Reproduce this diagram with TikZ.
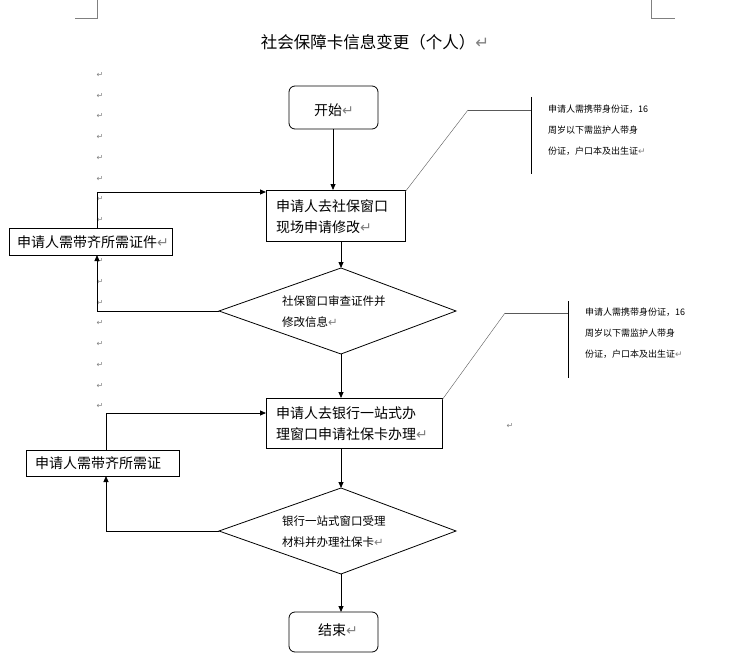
\documentclass[tikz,border=0pt]{standalone}
\usepackage{fontspec}
\setmainfont{Noto Sans CJK SC}
\newfontfamily\dvs{DejaVu Sans}
\newcommand{\pmk}{{\dvs\textcolor{gray}{↵}}}
\usetikzlibrary{shapes.geometric,arrows.meta}
\begin{document}
\begin{tikzpicture}[x=1pt,y=-1pt,
  txt/.style={font=\fontsize{14}{21}\selectfont,align=left,inner sep=0,anchor=west},
  dtxt/.style={font=\fontsize{11.5}{21}\selectfont,align=left,inner sep=0,anchor=west},
  small/.style={font=\fontsize{9}{21}\selectfont,align=left,inner sep=0,anchor=north west},
  arr/.style={-{Triangle[length=6pt,width=5pt]},thick},
  pm/.style={font=\fontsize{8}{8}\selectfont,inner sep=0}]
\useasboundingbox (0,0) rectangle (731,658);
\draw[gray] (97,0) -- (97,18) -- (75,18);
\draw[gray] (651,0) -- (651,18) -- (675,18);
\node[font=\fontsize{16.5}{18}\selectfont,inner sep=0] (title) at (375,42) {社会保障卡信息变更（个人）\pmk};
\foreach \i in {0,...,7,9,10,...,16} \node[pm] (pm\i) at (100,{75+20.7*\i}) {\pmk};
\node[pm] (pmx) at (510,426) {\pmk};
\draw[thick,rounded corners=6pt,fill=white] (289,86) rectangle (378,129);
\node[txt] (start) at (314,110) {开始\pmk};
\draw[thick,fill=white] (266,190) rectangle (405,241);
\node[txt] (b1) at (276,217) {申请人去社保窗口\\现场申请修改\pmk};
\draw[thick,fill=white] (9,228) rectangle (172,255);
\node[txt] (l1) at (17,242) {申请人需带齐所需证件\pmk};
\draw[thick,fill=white] (219,311) -- (341,268) -- (456,311) -- (341,354) -- cycle;
\node[dtxt] (d1) at (282,312) {社保窗口审查证件并\\修改信息\pmk};
\draw[thick,fill=white] (266,398) rectangle (442,448);
\node[txt] (b2) at (276,424) {申请人去银行一站式办\\理窗口申请社保卡办理\pmk};
\draw[thick,fill=white] (26,450) rectangle (179,476);
\node[txt] (l2) at (35,463.5) {申请人需带齐所需证};
\draw[thick,fill=white] (219,531) -- (341,488) -- (456,531) -- (341,574) -- cycle;
\node[dtxt] (d2) at (282,532) {银行一站式窗口受理\\材料并办理社保卡\pmk};
\draw[thick,rounded corners=6pt,fill=white] (289,612) rectangle (378,652);
\node[txt] (end) at (318,630) {结束\pmk};
% arrows
\draw[arr] (333,129) -- (333,190);
\draw[arr] (341,241) -- (341,268);
\draw[arr] (341,354) -- (341,398);
\draw[arr] (341,448) -- (341,488);
\draw[arr] (341,574) -- (341,612);
\draw[arr] (219,311) -- (97,311) -- (97,255);
\draw[arr] (97,228) -- (97,192) -- (266,192);
\draw[arr] (219,531) -- (106,531) -- (106,476);
\draw[arr] (106,450) -- (106,413) -- (266,413);
% callouts
\draw[gray!70!black] (405,192) -- (468,110);
\draw[gray!70!black,thick] (468,110) -- (531,110);
\draw[thick] (531,97) -- (531,174);
\node[small] (c1) at (548,105) {申请人需携带身份证，16\\周岁以下需监护人带身\\份证，户口本及出生证\pmk};
\draw[gray!70!black] (442,400) -- (505,313);
\draw[gray!70!black,thick] (505,313) -- (568,313);
\draw[thick] (568,301) -- (568,378);
\node[small] (c2) at (585,308) {申请人需携带身份证，16\\周岁以下需监护人带身\\份证，户口本及出生证\pmk};
\end{tikzpicture}
\end{document}
